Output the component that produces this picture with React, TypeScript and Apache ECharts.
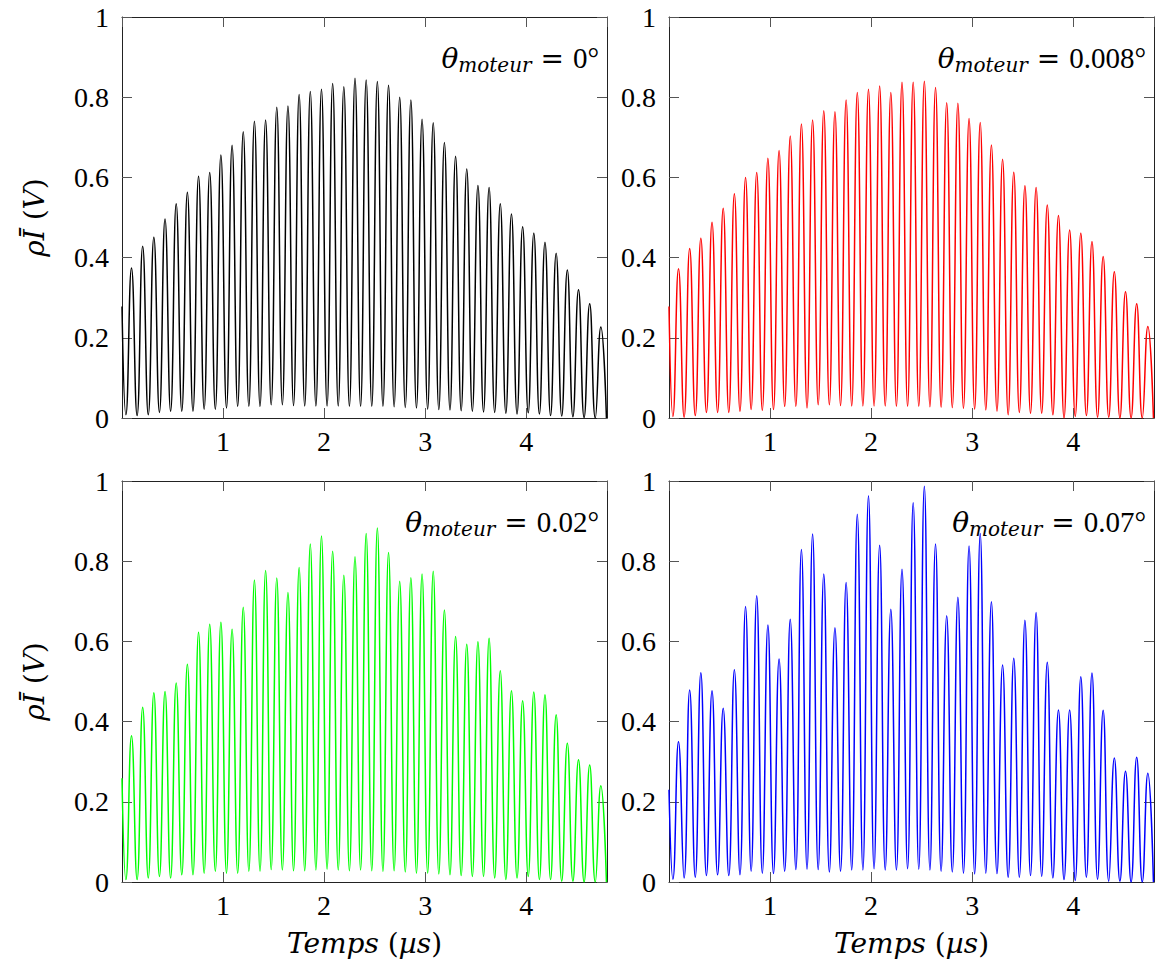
import React, { useEffect, useRef } from 'react';
import * as echarts from 'echarts';

// ---- data ----
const X_MIN = 0;
const X_MAX = 4.8;
const FIRST_PEAK_T = 0.094; // µs, time of the first maximum
const PERIOD = 0.1106; // µs, spacing between maxima

const xTicks = [1, 2, 3, 4];
const yTicks = [0, 0.2, 0.4, 0.6, 0.8, 1];
const angleLabels = ['0°', '0.008°', '0.02°', '0.07°'];
const colors = ['#000000', '#ff0000', '#00ff00', '#0000ff'];

const startValues = [0.278, 0.278, 0.259, 0.23];

const peaks0 = [
  0.374, 0.428, 0.451, 0.496, 0.534, 0.563, 0.603, 0.612, 0.656, 0.68, 0.714, 0.74, 0.743, 0.775,
  0.778, 0.807, 0.814, 0.82, 0.834, 0.826, 0.847, 0.843, 0.839, 0.83, 0.8, 0.793, 0.745, 0.736, 0.687,
  0.653, 0.621, 0.58, 0.575, 0.534, 0.509, 0.477, 0.461, 0.438, 0.411, 0.369, 0.32, 0.285, 0.227,
];
const troughs0 = [
  0.008, 0.006, 0.008, 0.014, 0.017, 0.017, 0.017, 0.022, 0.022, 0.025, 0.029, 0.029, 0.029, 0.033,
  0.033, 0.031, 0.03, 0.03, 0.03, 0.03, 0.029, 0.029, 0.029, 0.029, 0.028, 0.026, 0.025, 0.022, 0.021,
  0.02, 0.018, 0.017, 0.015, 0.014, 0.012, 0.01, 0.013, 0.01, 0.006, 0.005, 0.003, 0.001, 0.0, 0.0,
];

const peaks1 = [
  0.372, 0.423, 0.448, 0.488, 0.523, 0.559, 0.6, 0.612, 0.648, 0.667, 0.703, 0.733, 0.743, 0.766,
  0.764, 0.793, 0.812, 0.82, 0.828, 0.812, 0.837, 0.837, 0.84, 0.824, 0.786, 0.785, 0.747, 0.737, 0.681,
  0.645, 0.613, 0.579, 0.575, 0.531, 0.505, 0.469, 0.461, 0.44, 0.403, 0.365, 0.315, 0.285, 0.228,
];
const troughs1 = [
  0.004, 0.002, 0.006, 0.014, 0.014, 0.014, 0.017, 0.021, 0.019, 0.021, 0.029, 0.029, 0.025, 0.033,
  0.033, 0.031, 0.03, 0.03, 0.03, 0.03, 0.029, 0.029, 0.029, 0.028, 0.027, 0.026, 0.024, 0.022, 0.02,
  0.017, 0.008, 0.014, 0.012, 0.012, 0.008, 0.0, 0.004, 0.006, 0.002, 0.002, 0.0, 0.0, 0.0, 0.0,
];

const peaks2 = [
  0.365, 0.436, 0.472, 0.475, 0.496, 0.543, 0.623, 0.643, 0.648, 0.63, 0.685, 0.753, 0.777, 0.758,
  0.722, 0.784, 0.843, 0.863, 0.825, 0.765, 0.811, 0.869, 0.883, 0.822, 0.75, 0.759, 0.768, 0.775, 0.678,
  0.612, 0.593, 0.599, 0.608, 0.527, 0.477, 0.452, 0.474, 0.467, 0.417, 0.346, 0.305, 0.292, 0.24,
];
const troughs2 = [
  0.006, 0.006, 0.01, 0.014, 0.01, 0.018, 0.018, 0.022, 0.027, 0.022, 0.022, 0.027, 0.027, 0.031,
  0.03, 0.028, 0.028, 0.03, 0.032, 0.03, 0.028, 0.03, 0.028, 0.026, 0.028, 0.025, 0.022, 0.022, 0.02,
  0.018, 0.016, 0.014, 0.014, 0.01, 0.006, 0.01, 0.014, 0.006, 0.006, 0.002, 0.002, 0.0, 0.0, 0.0,
];

const peaks3 = [
  0.35, 0.479, 0.522, 0.477, 0.433, 0.529, 0.687, 0.714, 0.641, 0.556, 0.655, 0.829, 0.868, 0.768,
  0.634, 0.747, 0.917, 0.963, 0.84, 0.68, 0.78, 0.946, 0.987, 0.843, 0.664, 0.71, 0.838, 0.869, 0.699,
  0.541, 0.558, 0.653, 0.672, 0.548, 0.429, 0.429, 0.512, 0.521, 0.428, 0.309, 0.276, 0.311, 0.271,
];
const troughs3 = [
  0.007, 0.01, 0.012, 0.016, 0.018, 0.016, 0.018, 0.027, 0.022, 0.021, 0.027, 0.031, 0.032, 0.031,
  0.025, 0.027, 0.03, 0.03, 0.033, 0.03, 0.03, 0.033, 0.032, 0.03, 0.027, 0.025, 0.022, 0.02, 0.022,
  0.021, 0.012, 0.012, 0.016, 0.014, 0.01, 0.006, 0.004, 0.012, 0.007, 0.002, 0.002, 0.0, 0.0, 0.0,
];

const allPeaks = [peaks0, peaks1, peaks2, peaks3];
const allTroughs = [troughs0, troughs1, troughs2, troughs3];

function buildSignal(start: number, peaks: number[], troughs: number[]) {
  const pts: [number, number][] = [[X_MIN, start]];
  for (let k = 0; k < troughs.length; k++) {
    const tPeak = FIRST_PEAK_T + k * PERIOD;
    pts.push([tPeak - PERIOD / 2, troughs[k]]);
    if (k < peaks.length) pts.push([tPeak, peaks[k]]);
  }
  return pts;
}

const FONT = 'Liberation Serif';
const MATH = 'DejaVu Serif';

export default function App() {
  const ref = useRef<HTMLDivElement>(null);
  useEffect(() => {
    if (!ref.current) return;
    const chart = echarts.init(ref.current, undefined, { renderer: 'svg' });

    const gridPos = [
      { left: 122, top: 17 },
      { left: 669, top: 17 },
      { left: 122, top: 481 },
      { left: 669, top: 481 },
    ];
    const lineColor = '#222';
    const axisLine = { show: true, onZero: false, lineStyle: { color: lineColor, width: 1 } };
    const axisTick = { show: true, inside: true, length: 10, lineStyle: { color: '#555', width: 1 } };
    const labelFont = { fontFamily: FONT, fontSize: 28, color: '#000' };
    const nameRich = {
      i: { fontFamily: MATH, fontStyle: 'italic', fontSize: 28, color: '#000' },
      n: { fontFamily: MATH, fontSize: 28, color: '#000' },
    };

    const xAxis: any[] = [];
    const yAxis: any[] = [];
    const series: any[] = [];
    const graphic: any[] = [];

    gridPos.forEach((g, i) => {
      const isBottom = i >= 2;
      const isLeft = i % 2 === 0;
      xAxis.push({
        gridIndex: i,
        type: 'value',
        position: 'bottom',
        min: X_MIN,
        max: X_MAX,
        interval: 1,
        axisLine,
        axisTick,
        splitLine: { show: false },
        axisLabel: {
          ...labelFont,
          margin: 9,
          showMinLabel: false,
          showMaxLabel: false,
          formatter: (v: number) => (xTicks.includes(v) ? String(v) : ''),
        },
        name: isBottom ? '{i|Temps}{n| (}{i|µs}{n|)}' : '',
        nameLocation: 'middle',
        nameGap: 47,
        nameTextStyle: { fontFamily: MATH, fontSize: 28, rich: nameRich },
      });
      xAxis.push({
        gridIndex: i,
        type: 'value',
        position: 'top',
        min: X_MIN,
        max: X_MAX,
        interval: 1,
        axisLine,
        axisTick,
        splitLine: { show: false },
        axisLabel: { show: false },
      });
      yAxis.push({
        gridIndex: i,
        type: 'value',
        position: 'left',
        min: 0,
        max: 1,
        interval: 0.2,
        axisLine,
        axisTick,
        splitLine: { show: false },
        axisLabel: {
          ...labelFont,
          margin: 13,
          formatter: (v: number) => {
            const t = yTicks.find((y) => Math.abs(y - v) < 1e-6);
            return t === undefined ? '' : String(t);
          },
        },
        name: isLeft ? '{i|ρĪ}{n| (}{i|V}{n|)}' : '',
        nameLocation: 'middle',
        nameGap: 74,
        nameTextStyle: { fontFamily: MATH, fontSize: 28, rich: nameRich },
      });
      yAxis.push({
        gridIndex: i,
        type: 'value',
        position: 'right',
        min: 0,
        max: 1,
        interval: 0.2,
        axisLine,
        axisTick,
        splitLine: { show: false },
        axisLabel: { show: false },
      });
      series.push({
        type: 'line',
        xAxisIndex: 2 * i,
        yAxisIndex: 2 * i,
        data: buildSignal(startValues[i], allPeaks[i], allTroughs[i]),
        smooth: 0.5,
        showSymbol: false,
        symbol: 'none',
        lineStyle: { color: colors[i], width: 1.5 },
        clip: true,
      });
      graphic.push({
        type: 'text',
        x: g.left + 477,
        y: g.top + 41,
        style: {
          text: `{th|θ}{s|moteur}{eq| = }{n|${angleLabels[i]}}`,
          align: 'right',
          verticalAlign: 'middle',
          rich: {
            th: { fontFamily: MATH, fontStyle: 'italic', fontSize: 28, lineHeight: 34, fill: '#000' },
            s: { fontFamily: MATH, fontStyle: 'italic', fontSize: 20, lineHeight: 18, verticalAlign: 'bottom', fill: '#000' },
            eq: { fontFamily: MATH, fontSize: 28, lineHeight: 34, fill: '#000' },
            n: { fontFamily: FONT, fontSize: 29, lineHeight: 34, fill: '#000' },
          },
        },
      });
    });

    chart.setOption({
      animation: false,
      backgroundColor: '#ffffff',
      textStyle: { fontFamily: FONT },
      grid: gridPos.map((g) => ({ left: g.left, top: g.top, width: 485, height: 401, containLabel: false })),
      xAxis,
      yAxis,
      series,
      graphic,
    });
    return () => chart.dispose();
  }, []);

  return (
    <div
      ref={ref}
      style={{ position: 'fixed', left: 0, top: 0, width: 1157, height: 969, background: '#fff' }}
    />
  );
}
